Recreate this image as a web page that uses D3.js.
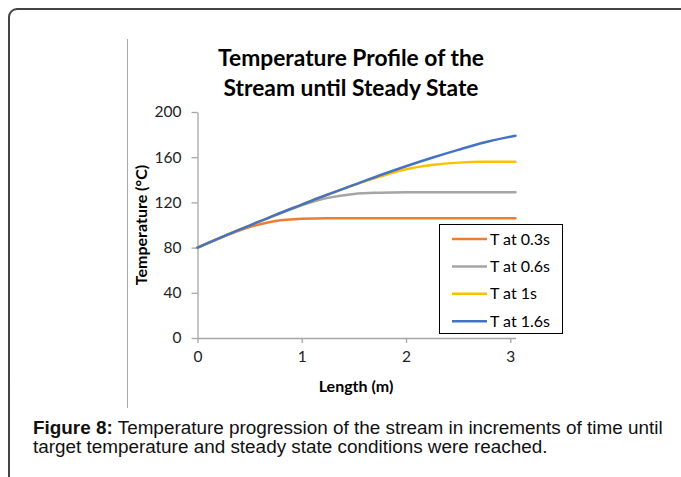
<!DOCTYPE html>
<html>
<head>
<meta charset="utf-8">
<script src="https://cdn.jsdelivr.net/npm/d3@7"></script>
<style>
  body { margin: 0; background: #fff; }
  svg { display: block; }
</style>
</head>
<body>
<svg></svg>
<script>
// length along the stream (m)
var lengths = [0, 0.25, 0.5, 0.75, 1.0, 1.25, 1.5, 1.75, 2.0, 2.25, 2.5, 2.75, 3.05];

// temperature (°C) at each length, one array per time step
var t03 = [80, 89.8, 98.2, 103.6, 105.5, 106, 106, 106, 106, 106, 106, 106, 106];
var t06 = [80, 90, 99.5, 108.8, 117.4, 124, 127.5, 128.6, 129, 129, 129, 129, 129];
var t1 = [80, 90, 99.5, 109, 118, 127, 135.3, 142.8, 149.3, 153, 155.2, 156, 156];
var t16 = [80, 90, 99.5, 109, 118, 127, 135.5, 144, 152, 159.5, 166.5, 173, 179];

var seriesNames = ["T at 0.3s", "T at 0.6s", "T at 1s", "T at 1.6s"];
var seriesColors = ["#ED7D31", "#A5A5A5", "#FFC000", "#4472C4"];
var seriesValues = [t03, t06, t1, t16];

var yTicks = [0, 40, 80, 120, 160, 200];
var xTicks = [0, 1, 2, 3];

var titleLines = ["Temperature Profile of the", "Stream until Steady State"];
var captionBold = "Figure 8:";
var captionLines = [" Temperature progression of the stream in increments of time until",
  "target temperature and steady state conditions were reached."];

var svgWidth = 681, svgHeight = 477;
var font = "Lato, 'Open Sans', sans-serif";

var svg = d3.select("svg")
  .attr("width", svgWidth)
  .attr("height", svgHeight);

// outer frame (runs off the right and bottom edge)
svg.append("rect")
  .attr("x", 9)
  .attr("y", 9)
  .attr("width", 700)
  .attr("height", 500)
  .attr("rx", 8)
  .attr("fill", "none")
  .attr("stroke", "#444")
  .attr("stroke-width", 2);

// thin separator on the left of the chart
svg.append("line")
  .attr("x1", 127.5).attr("x2", 127.5)
  .attr("y1", 39).attr("y2", 408)
  .attr("stroke", "#aaa")
  .attr("stroke-width", 1);

var x = d3.scaleLinear()
  .domain([0, 3.05])
  .range([197.5, 515.5]);

var y = d3.scaleLinear()
  .domain([0, 200])
  .range([338, 112]);

// title
svg.append("g").selectAll("text")
  .data(titleLines)
  .enter()
  .append("text")
  .attr("x", 351)
  .attr("y", function (d, i) { return 66 + i * 30; })
  .attr("text-anchor", "middle")
  .attr("font-family", font)
  .attr("font-weight", "bold")
  .attr("font-size", 22.8)
  .attr("fill", "#000")
  .text(function (d) { return d; });

// axes
var yAxis = svg.append("g")
  .attr("transform", "translate(" + x(0) + ",0)")
  .call(d3.axisLeft(y).tickValues(yTicks).tickFormat(d3.format("d"))
    .tickSize(6).tickPadding(10).tickSizeOuter(0));

var xAxis = svg.append("g")
  .attr("transform", "translate(0," + y(0) + ")")
  .call(d3.axisBottom(x).tickValues(xTicks).tickFormat(d3.format("d"))
    .tickSize(5).tickPadding(8).tickSizeOuter(0));

[xAxis, yAxis].forEach(function (a) {
  a.select(".domain").attr("stroke", "#a6a6a6").attr("stroke-width", 1.3);
  a.selectAll(".tick line").attr("stroke", "#a6a6a6").attr("stroke-width", 1.3);
  a.selectAll(".tick text")
    .attr("font-family", font)
    .attr("font-size", 15.5)
    .attr("fill", "#222");
});

// axis titles
svg.append("text")
  .attr("x", 356)
  .attr("y", 392)
  .attr("text-anchor", "middle")
  .attr("font-family", font)
  .attr("font-weight", "bold")
  .attr("font-size", 16)
  .text("Length (m)");

svg.append("text")
  .attr("transform", "translate(147," + ((y(0) + y(200)) / 2) + ") rotate(-90)")
  .attr("text-anchor", "middle")
  .attr("font-family", font)
  .attr("font-weight", "bold")
  .attr("font-size", 16)
  .text("Temperature (\u00B0C)");

// series lines
var line = d3.line()
  .x(function (d, i) { return x(lengths[i]); })
  .y(function (d) { return y(d); })
  .curve(d3.curveMonotoneX);

svg.append("g").selectAll("path")
  .data(seriesValues)
  .enter()
  .append("path")
  .attr("d", line)
  .attr("fill", "none")
  .attr("stroke", function (d, i) { return seriesColors[i]; })
  .attr("stroke-width", 2.5)
  .attr("stroke-linejoin", "round")
  .attr("stroke-linecap", "round");

// legend
var legend = svg.append("g");

legend.append("rect")
  .attr("x", 439.5)
  .attr("y", 224.5)
  .attr("width", 123)
  .attr("height", 109)
  .attr("fill", "#fff")
  .attr("stroke", "#000")
  .attr("stroke-width", 1);

var items = legend.selectAll("g.item")
  .data(seriesNames)
  .enter()
  .append("g")
  .attr("class", "item")
  .attr("transform", function (d, i) { return "translate(0," + (239 + i * 27.4) + ")"; });

items.append("line")
  .attr("x1", 452).attr("x2", 487)
  .attr("y1", 0).attr("y2", 0)
  .attr("stroke", function (d, i) { return seriesColors[i]; })
  .attr("stroke-width", 2.5);

items.append("text")
  .attr("x", 490)
  .attr("y", 5.5)
  .attr("font-family", font)
  .attr("font-size", 16)
  .attr("fill", "#000")
  .text(function (d) { return d; });

// caption
var cap = svg.append("g")
  .attr("font-family", "'Liberation Sans', Arial, sans-serif")
  .attr("font-size", 18.9)
  .attr("fill", "#111");

var c1 = cap.append("text")
  .attr("x", 33)
  .attr("y", 433.5);
c1.append("tspan").attr("font-weight", "bold").text(captionBold);
c1.append("tspan").text(captionLines[0]);

cap.append("text")
  .attr("x", 33)
  .attr("y", 453)
  .text(captionLines[1]);
</script>
</body>
</html>
